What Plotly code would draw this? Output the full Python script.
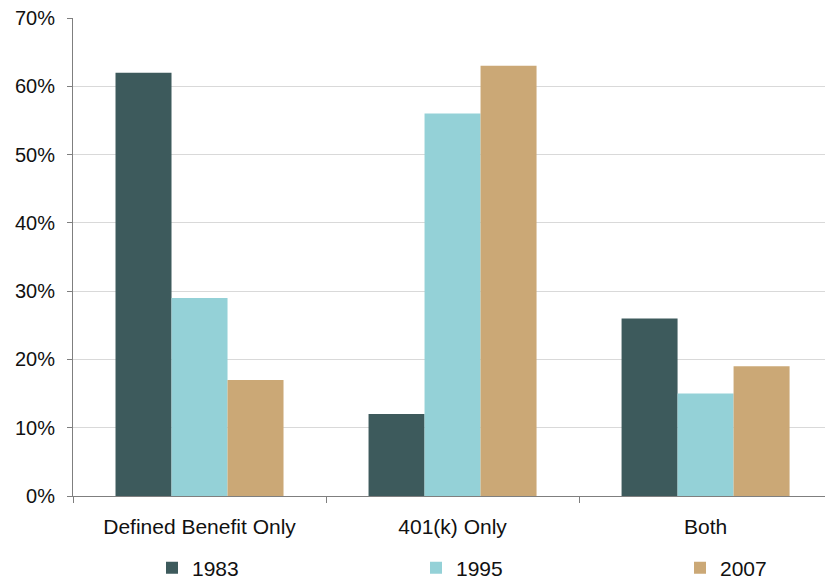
import plotly.graph_objects as go

categories = ["Defined Benefit Only", "401(k) Only", "Both"]
years = ["1983", "1995", "2007"]
share_1983 = [62, 12, 26]
share_1995 = [29, 56, 15]
share_2007 = [17, 63, 19]
colors = ["#3d5a5c", "#94d1d7", "#cba876"]
y_ticks = [0, 10, 20, 30, 40, 50, 60, 70]
y_tick_labels = [f"{v}%" for v in y_ticks]

FONT = "Liberation Sans, Arial, sans-serif"
W, H = 825, 581

# one legend per series so each key sits at its own fixed spot
legend_ids = ["legend", "legend2", "legend3"]
legend_left_px = [152, 416, 680]

fig = go.Figure()
for name, vals, col, lg in zip(years, [share_1983, share_1995, share_2007], colors, legend_ids):
    fig.add_trace(go.Bar(
        x=categories, y=vals, name=name, legend=lg,
        marker=dict(color=col, line=dict(width=0)),
    ))

legend_style = dict(
    orientation="h",
    xref="container", yref="container",
    yanchor="middle", xanchor="left",
    font=dict(family=FONT, size=21, color="#111111"),
    itemwidth=30, bgcolor="rgba(0,0,0,0)",
)
layout_legends = {}
for lg, px in zip(legend_ids, legend_left_px):
    layout_legends[lg] = dict(legend_style, x=px / W, y=(H - 568) / H)

fig.update_layout(
    width=W, height=H,
    margin=dict(l=73, r=0, t=18, b=85),
    paper_bgcolor="white", plot_bgcolor="white",
    barmode="group", bargap=0.336, bargroupgap=0,
    font=dict(family=FONT, size=20, color="#111111"),
    showlegend=True,
    xaxis=dict(
        range=[-0.5, 2.472],
        showline=True, linecolor="#7f7f7f", linewidth=1,
        ticks="outside", tickson="boundaries", ticklen=6, tickcolor="#7f7f7f",
        showgrid=False, zeroline=False,
        tickfont=dict(family=FONT, size=21, color="#111111"),
        ticklabelstandoff=12,
    ),
    yaxis=dict(
        range=[0, 70],
        tickvals=y_ticks, ticktext=y_tick_labels,
        showline=True, linecolor="#7f7f7f", linewidth=1,
        ticks="outside", ticklen=5, tickcolor="#7f7f7f",
        showgrid=True, gridcolor="#d9d9d9", gridwidth=1,
        zeroline=False,
        tickfont=dict(family=FONT, size=20, color="#111111"),
        ticklabelstandoff=8,
    ),
    **layout_legends,
)

fig.write_html("out.html")
